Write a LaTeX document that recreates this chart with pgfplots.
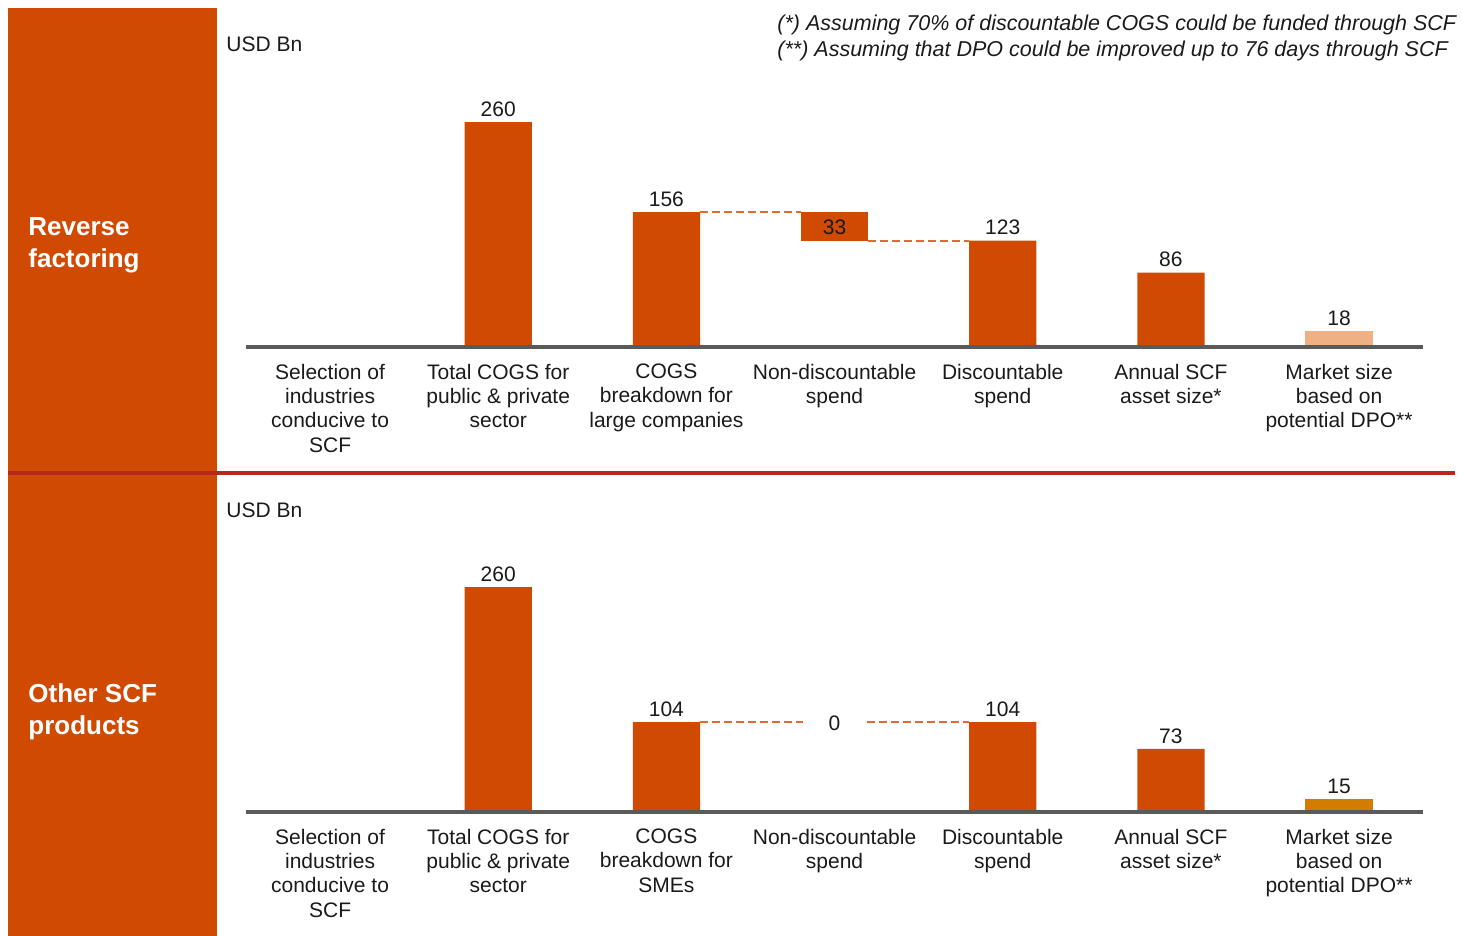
\documentclass[border=0pt]{standalone}
\usepackage{fontspec}
\setmainfont{Liberation Sans}
\usepackage{pgfplots}
\pgfplotsset{compat=1.18}
\definecolor{pwc}{HTML}{D04A02}
\definecolor{peach}{HTML}{EFB084}
\definecolor{amber}{HTML}{D27C00}
\definecolor{basegray}{HTML}{5A5A5A}
\definecolor{redline}{HTML}{B5281C}
\definecolor{dashc}{HTML}{E06A32}
\definecolor{txt}{HTML}{1A1A1A}
\newcommand\lbl{\fontsize{10.5}{12.15}\selectfont}
\pgfplotsset{
  wf/.style={
    at={(123pt,#1)}, anchor=south west,
    x=84.08pt, y=0.4325pt,
    xmin=-0.5, xmax=6.5, ymin=0, ymax=290,
    axis line style={draw=none},
    ytick=\empty, xtick={0,...,6}, major tick length=0pt,
    clip=false,
    xticklabel style={font=\lbl, align=center, text=txt, anchor=north, inner sep=0pt, yshift=-8.3pt},
    /pgf/number format/assume math mode=true,
    nodes near coords style={font=\lbl, text=txt, anchor=south, inner sep=2.6pt},
  },
  bars/.style={ybar, bar width=0.4, bar shift=0pt, draw=none, fill=#1, nodes near coords},
  dash/.style={dashc, line width=1pt, dash pattern=on 4pt off 2pt},
  base/.style={basegray, line width=1.75pt},
}
\begin{document}
\begin{tikzpicture}
\path[use as bounding box] (0,0) rectangle (731pt,468pt);
\fill[pwc] (4pt,0pt) rectangle (108.5pt,464pt);
\draw[redline, line width=2pt] (4pt,231.5pt) -- (727.5pt,231.5pt);
\node[anchor=west, inner sep=0pt, align=left, text=white, font=\fontsize{13}{16}\selectfont\bfseries] at (14pt,345.5pt) {Reverse\\factoring};
\node[anchor=west, inner sep=0pt, align=left, text=white, font=\fontsize{13}{16}\selectfont\bfseries] at (14pt,112pt) {Other SCF\\products};
\node[anchor=west, inner sep=0pt, text=txt, font=\lbl] at (113pt,446pt) {USD Bn};
\node[anchor=west, inner sep=0pt, text=txt, font=\lbl] at (113pt,213pt) {USD Bn};
\node[anchor=west, inner sep=0pt, text=txt, font=\fontsize{10.75}{12}\selectfont\itshape] at (388.5pt,455.5pt) {(*) Assuming 70\% of discountable COGS could be funded through SCF};
\node[anchor=west, inner sep=0pt, text=txt, font=\fontsize{10.75}{12}\selectfont\itshape] at (388.5pt,442.5pt) {(**) Assuming that DPO could be improved up to 76 days through SCF};

\begin{axis}[wf=294.5pt,
  xticklabels={{Selection of\\industries\\conducive to\\SCF},{Total COGS for\\public \& private\\sector},{COGS\\breakdown for\\large companies},{Non-discountable\\spend},{Discountable\\spend},{Annual SCF\\asset size*},{Market size\\based on\\potential DPO**}}]
\addplot[bars=pwc] coordinates {(1,260) (2,156) (4,123) (5,86)};
\addplot[bars=peach] coordinates {(6,18)};
\addplot[fill=pwc, draw=none] coordinates {(2.8,123) (2.8,156) (3.2,156) (3.2,123)} -- cycle;
\node[font=\lbl, text=txt] at (axis cs:3,138.5) {33};
\addplot[dash] coordinates {(2.2,156) (2.8,156)};
\addplot[dash] coordinates {(3.2,123) (3.8,123)};
\addplot[base] coordinates {(-0.5,0) (6.5,0)};
\end{axis}

\begin{axis}[wf=62pt,
  xticklabels={{Selection of\\industries\\conducive to\\SCF},{Total COGS for\\public \& private\\sector},{COGS\\breakdown for\\SMEs},{Non-discountable\\spend},{Discountable\\spend},{Annual SCF\\asset size*},{Market size\\based on\\potential DPO**}}]
\addplot[bars=pwc] coordinates {(1,260) (2,104) (4,104) (5,73)};
\addplot[bars=amber] coordinates {(6,15)};
\node[font=\lbl, text=txt] at (axis cs:3,103) {0};
\addplot[dash] coordinates {(2.2,104) (2.81,104)};
\addplot[dash] coordinates {(3.19,104) (3.8,104)};
\addplot[base] coordinates {(-0.5,0) (6.5,0)};
\end{axis}
\end{tikzpicture}
\end{document}
